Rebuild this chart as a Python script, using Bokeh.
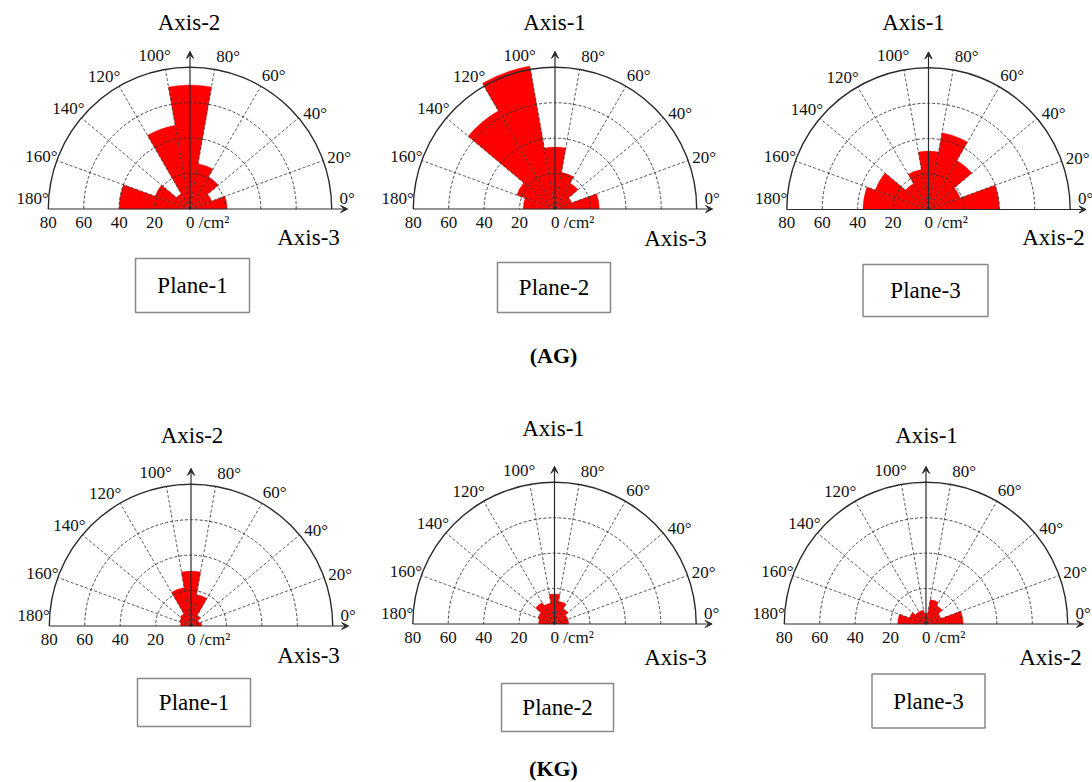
import numpy as np
from bokeh.plotting import figure
from bokeh.models import Range1d, Arrow, VeeHead, ColumnDataSource
from bokeh.embed import file_html
from bokeh.resources import INLINE
from bokeh.core.properties import value

# ---------------- data ----------------
bin_start = [0, 20, 40, 60, 80, 100, 120, 140, 160]   # degrees
bin_width = 20
angle_ticks = [0, 20, 40, 60, 80, 100, 120, 140, 160, 180]
radial_tick_values = [-80, -60, -40, -20]
radial_tick_labels = ["80", "60", "40", "20"]
ring_radii = [20, 40, 60]
outer_radius = 80

ag_plane1 = [21, 13, 21, 26, 70, 48, 10, 21, 40]
ag_plane2 = [25, 10, 17, 21, 35, 82, 64, 23, 18]
ag_plane3 = [40, 19, 32, 44, 33, 23, 17, 32, 37]
kg_plane1 = [6, 5, 7, 18, 31, 22, 8, 7, 6]
kg_plane2 = [8, 8, 10, 13, 17, 12, 14, 10, 9]
kg_plane3 = [21, 9, 12, 14, 6, 8, 8, 10, 16]

plane_names = ["Plane-1", "Plane-2", "Plane-3"]
up_axis_names = ["Axis-2", "Axis-1", "Axis-1"]
right_axis_names = ["Axis-3", "Axis-3", "Axis-2"]
group_labels = ["(AG)", "(KG)"]

series = [ag_plane1, ag_plane2, ag_plane3, kg_plane1, kg_plane2, kg_plane3]

# ---------------- layout (picture pixels) ----------------
W, H = 1092, 782
S = 141.7 / 80.0          # pixels per cm^2 unit
FONT = value("Liberation Serif")
INK = "#111111"
GRID = "#333333"


def pt(ix, iy):
    """picture pixel -> data units"""
    return ix / S, (H - iy) / S


centers_px = [(189.5, 208.5), (554.5, 208.5), (928, 209),
              (190.5, 625.5), (554, 623.5), (925.5, 623.5)]
title_px = [(188.5, 22), (554, 22), (913, 22),
            (191.5, 435), (553, 428), (926, 435)]
right_px = [(308, 237), (675, 238), (1053, 237),
            (308, 655), (675, 657), (1050, 657)]
box_px = [(192, 285, 114, 54), (553.5, 287, 113, 50), (925, 290, 125, 52),
          (193.5, 702, 113, 48), (557, 707, 112, 48), (928, 700.5, 113, 54)]
group_px = [(553, 355), (553, 768)]
label_angle = [4, 19, 37.5, 58, 76, 103, 123, 140.5, 160.5, 176]
label_r = 89

p = figure(width=W, height=H, x_range=Range1d(0, W / S), y_range=Range1d(0, H / S),
           output_backend="svg", toolbar_location=None, min_border=0,
           match_aspect=False)
p.axis.visible = False
p.grid.visible = False
p.outline_line_color = None
p.background_fill_color = "white"
p.border_fill_color = "white"

for k in range(6):
    cx, cy = pt(*centers_px[k])
    vals = series[k]
    src = ColumnDataSource(dict(
        x=[cx] * len(vals), y=[cy] * len(vals), r=vals,
        a0=bin_start, a1=[b + bin_width for b in bin_start]))
    p.wedge(x="x", y="y", radius="r", start_angle="a0", end_angle="a1",
            start_angle_units="deg", end_angle_units="deg", source=src,
            fill_color="#FF0000", line_color="#F00000", line_width=0.3)

    # dashed rings
    p.arc(x=[cx] * len(ring_radii), y=[cy] * len(ring_radii), radius=ring_radii,
          start_angle=0, end_angle=np.pi, line_color=GRID,
          line_width=0.9, line_dash="3 2")
    # outer ring
    p.arc(x=[cx], y=[cy], radius=[outer_radius], start_angle=0, end_angle=np.pi,
          line_color="#2a2a2a", line_width=1.4)
    # radial dashed spokes
    spokes = [a for a in angle_ticks[1:-1]]
    th = np.radians(spokes)
    p.segment(x0=[cx] * len(spokes), y0=[cy] * len(spokes),
              x1=list(cx + outer_radius * np.cos(th)),
              y1=list(cy + outer_radius * np.sin(th)),
              line_color=GRID, line_width=0.8, line_dash="3 2")
    # axes with arrows
    p.add_layout(Arrow(end=VeeHead(size=7, fill_color="#2a2a2a", line_color="#2a2a2a",
                                   line_width=1),
                       x_start=cx - outer_radius, y_start=cy, x_end=cx + 89, y_end=cy,
                       line_color="#2a2a2a", line_width=1.2))
    p.add_layout(Arrow(end=VeeHead(size=7, fill_color="#2a2a2a", line_color="#2a2a2a",
                                   line_width=1),
                       x_start=cx, y_start=cy, x_end=cx, y_end=cy + 89,
                       line_color="#2a2a2a", line_width=1.2))

    # angle labels
    la = np.radians(label_angle)
    p.text(x=list(cx + label_r * np.cos(la)), y=list(cy + label_r * np.sin(la)),
           text=[f"{a}\u00b0" for a in angle_ticks], text_font=FONT,
           text_font_size="17px", text_color=INK, text_align="center",
           text_baseline="middle")
    # radial tick labels
    p.text(x=[cx + v for v in radial_tick_values], y=[cy] * len(radial_tick_values),
           text=radial_tick_labels, text_font=FONT, text_font_size="17px",
           text_color=INK, text_align="center", text_baseline="middle", y_offset=13)
    p.text(x=[cx], y=[cy], text=["0 /cm\u00b2"], text_font=FONT, text_font_size="17px",
           text_color=INK, text_align="left", text_baseline="middle",
           x_offset=-4, y_offset=13)

    # axis names
    tx, ty = pt(*title_px[k])
    p.text(x=[tx], y=[ty], text=[up_axis_names[k % 3]], text_font=FONT,
           text_font_size="23px", text_color="#000000", text_align="center",
           text_baseline="middle")
    rx, ry = pt(*right_px[k])
    p.text(x=[rx], y=[ry], text=[right_axis_names[k % 3]], text_font=FONT,
           text_font_size="23px", text_color="#000000", text_align="center",
           text_baseline="middle")

    # plane box
    bx, by, bw, bh = box_px[k]
    bxd, byd = pt(bx, by)
    p.rect(x=[bxd], y=[byd], width=bw / S, height=bh / S, fill_color="white",
           line_color="#888888", line_width=1.5)
    p.text(x=[bxd], y=[byd], text=[plane_names[k % 3]], text_font=FONT,
           text_font_size="23px", text_color="#000000", text_align="center",
           text_baseline="middle")

for g in range(2):
    gx, gy = pt(*group_px[g])
    p.text(x=[gx], y=[gy], text=[group_labels[g]], text_font=FONT,
           text_font_size="22px", text_font_style="bold", text_color="#000000",
           text_align="center", text_baseline="middle")

open("out.html", "w").write(file_html(p, INLINE))
